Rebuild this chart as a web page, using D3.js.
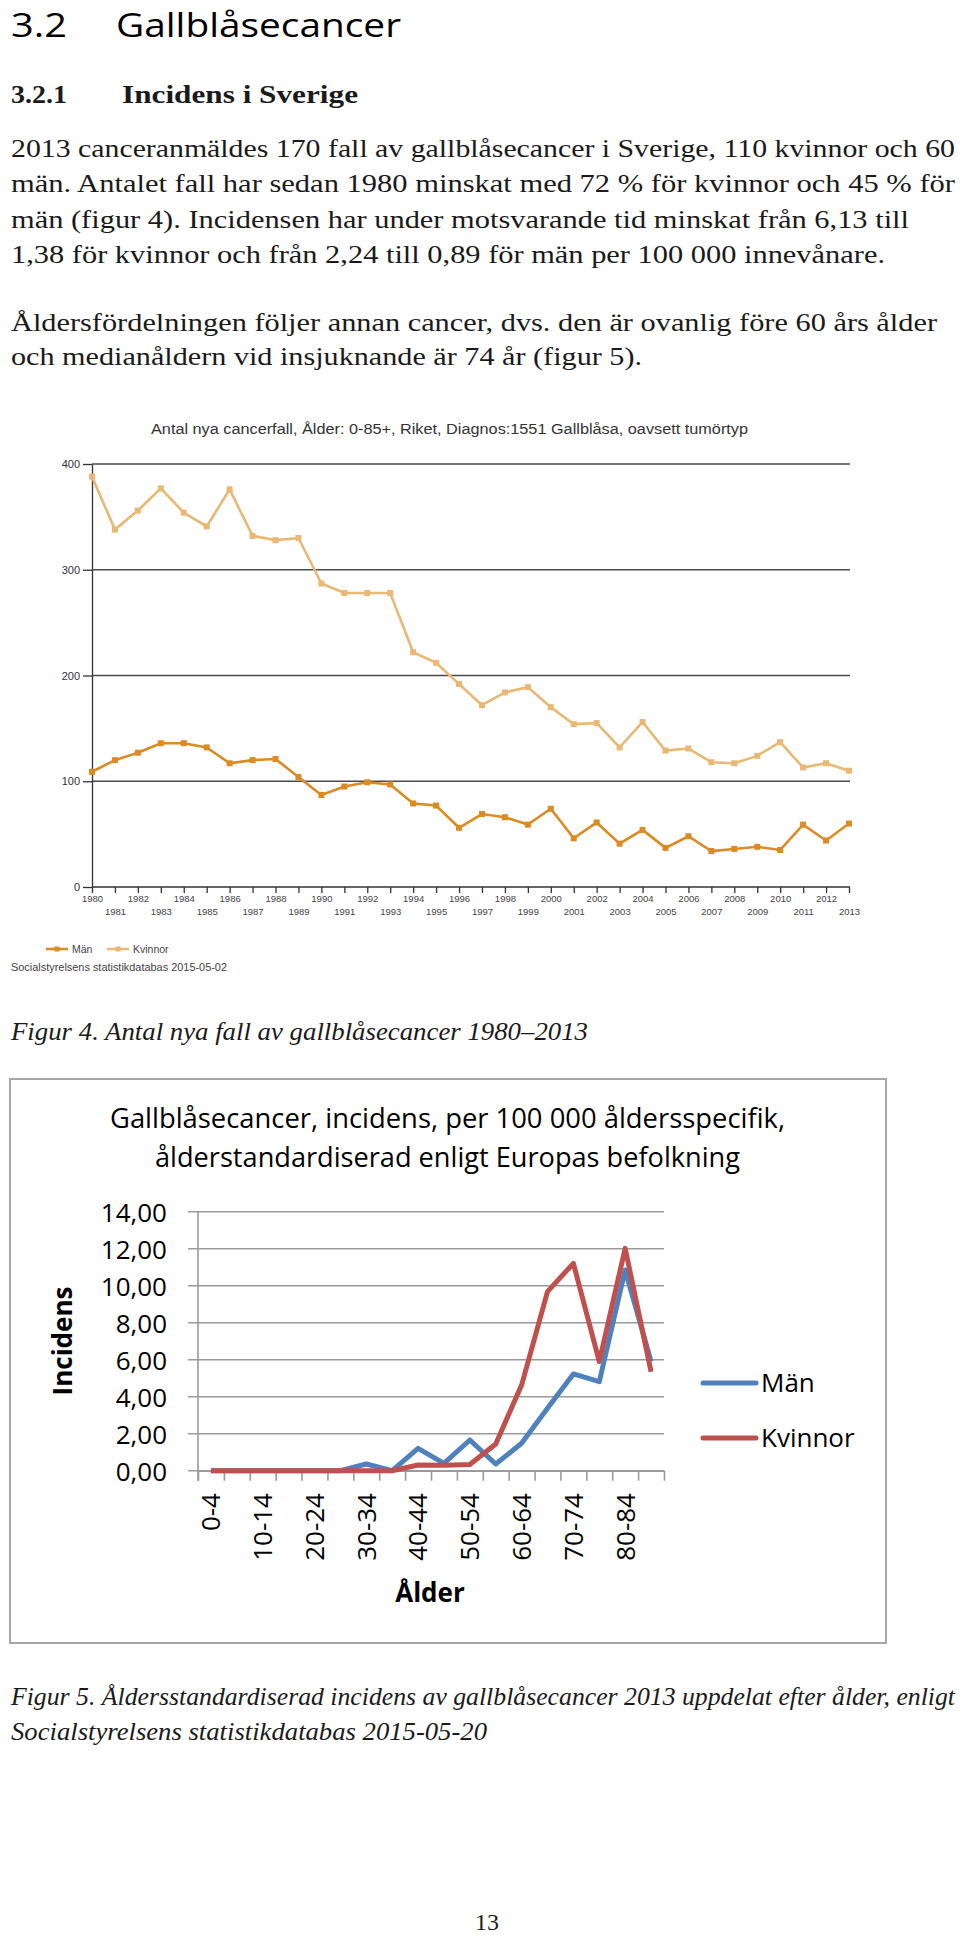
<!DOCTYPE html>
<html>
<head>
<meta charset="utf-8">
<style>
  html, body { margin: 0; padding: 0; background: #fff; }
  svg { display: block; }
  .serif { font-family: "Liberation Serif", "Times New Roman", serif; fill: #1a1a1a; }
  .arial { font-family: "Liberation Sans", Arial, sans-serif; fill: #333; }
  .narrow { font-family: "Liberation Sans Narrow", "Arial Narrow", "Liberation Sans", sans-serif; fill: #444; }
  .calibri { font-family: "Open Sans", "Noto Sans", sans-serif; fill: #000; }
</style>
</head>
<body>
<svg id="page" width="960" height="1935"></svg>
<script src="https://cdn.jsdelivr.net/npm/d3@7"></script>
<script>
// --- text of the page ---
const bodyLines = [
  "2013 canceranmäldes 170 fall av gallblåsecancer i Sverige, 110 kvinnor och 60",
  "män. Antalet fall har sedan 1980 minskat med 72 % för kvinnor och 45 % för",
  "män (figur 4). Incidensen har under motsvarande tid minskat från 6,13 till",
  "1,38 för kvinnor och från 2,24 till 0,89 för män per 100 000 innevånare.",
  "Åldersfördelningen följer annan cancer, dvs. den är ovanlig före 60 års ålder",
  "och medianåldern vid insjuknande är 74 år (figur 5)."
];
const caption4 = "Figur 4. Antal nya fall av gallblåsecancer 1980–2013";
const caption5 = [
  "Figur 5. Åldersstandardiserad incidens av gallblåsecancer 2013 uppdelat efter ålder, enligt",
  "Socialstyrelsens statistikdatabas 2015-05-20"
];

// --- figur 4: antal nya fall per år ---
const years = d3.range(1980, 2014);
const kvinnorAntal = [388, 338, 356, 377, 354, 341, 376, 332, 328, 330, 287, 278, 278, 278, 222, 212, 192,
  172, 184, 189, 170, 154, 155, 132, 156, 129, 131, 118, 117, 124, 137, 113, 117, 110];
const manAntal = [109, 120, 127, 136, 136, 132, 117, 120, 121, 104, 87, 95, 99, 97, 79, 77, 56,
  69, 66, 59, 74, 46, 61, 41, 54, 37, 48, 34, 36, 38, 35, 59, 44, 60];
const antalTicks = [0, 100, 200, 300, 400];

// --- figur 5: incidens per åldersgrupp ---
const ages = ["0-4", "5-9", "10-14", "15-19", "20-24", "25-29", "30-34", "35-39", "40-44",
  "45-49", "50-54", "55-59", "60-64", "65-69", "70-74", "75-79", "80-84", "85+"];
const manInc = [0, 0, 0, 0, 0, 0, 0.36, 0, 1.21, 0.4, 1.66, 0.36, 1.48, 3.37, 5.23, 4.81, 10.85, 5.9];
const kvinnorInc = [0, 0, 0, 0, 0, 0, 0, 0, 0.31, 0.3, 0.34, 1.44, 4.63, 9.68, 11.21, 5.9, 12.02, 5.35];
const incTicks = [0, 2, 4, 6, 8, 10, 12, 14];

const svg = d3.select("#page");
svg.append("rect").attr("width", 960).attr("height", 1935).attr("fill", "#fff");

function fitText(g, cls, x, y, txt, len, size, extra) {
  const t = g.append("text").attr("class", cls).attr("x", x).attr("y", y)
    .attr("font-size", size).attr("textLength", len).attr("lengthAdjust", "spacingAndGlyphs")
    .text(txt);
  if (extra) extra(t);
  return t;
}

// headings and body
fitText(svg, "calibri", 11, 37, "3.2", 56, 33, t => t.attr("fill", "#111"));
fitText(svg, "calibri", 116, 37, "Gallblåsecancer", 285, 33, t => t.attr("fill", "#111"));
fitText(svg, "serif", 11, 103, "3.2.1", 56, 26, t => t.attr("font-weight", "bold"));
fitText(svg, "serif", 122, 103, "Incidens i Sverige", 236, 26, t => t.attr("font-weight", "bold"));

const bodyY = [157, 192, 228, 263, 331, 365];
const bodyW = [944, 944, 898, 874, 926, 631];
bodyLines.forEach((l, i) => fitText(svg, "serif", 11, bodyY[i], l, bodyW[i], 25));

// ---------- Figur 4 ----------
const g1 = svg.append("g");
const x1 = d3.scaleLinear().domain([1980, 2013]).range([92, 849]);
const y1 = d3.scaleLinear().domain([0, 400]).range([887, 464]);

fitText(g1, "arial", 151, 434, "Antal nya cancerfall, Ålder: 0-85+, Riket, Diagnos:1551 Gallblåsa, oavsett tumörtyp", 597, 14);

g1.selectAll("line.grid").data(antalTicks.filter(d => d > 0)).join("line")
  .attr("class", "grid")
  .attr("x1", 92).attr("x2", 850)
  .attr("y1", d => y1(d)).attr("y2", d => y1(d))
  .attr("stroke", "#4a4a4a").attr("stroke-width", 1.3);

const yAx1 = g1.append("g").attr("transform", "translate(92,0)")
  .call(d3.axisLeft(y1).tickValues(antalTicks).tickSize(9).tickPadding(3).tickSizeOuter(0));
yAx1.selectAll("text").attr("class", "arial").attr("font-size", 11).attr("fill", "#333");
yAx1.selectAll("line,path").attr("stroke", "#333").attr("stroke-width", 1.3);

const xAx1 = g1.append("g").attr("transform", "translate(0,887)")
  .call(d3.axisBottom(x1).tickValues(years).tickFormat(d3.format("d")).tickSize(6).tickPadding(2).tickSizeOuter(0));
xAx1.select("path").attr("d", "M92,0H850");
xAx1.selectAll("line,path").attr("stroke", "#333").attr("stroke-width", 1.3);
xAx1.selectAll("text").attr("class", "narrow").attr("font-size", 9.5).attr("fill", "#444")
  .attr("dy", d => (d % 2 === 0 ? "0.71em" : "2.1em"));

const series1 = [
  { name: "Kvinnor", values: kvinnorAntal, color: "#E8B874" },
  { name: "Män", values: manAntal, color: "#DC8A22" }
];
const line1 = d3.line().x((d, i) => x1(years[i])).y(d => y1(d));
series1.forEach(s => {
  g1.append("path").attr("d", line1(s.values)).attr("fill", "none")
    .attr("stroke", s.color).attr("stroke-width", 2.6);
  g1.selectAll(null).data(s.values).join("rect")
    .attr("x", (d, i) => x1(years[i]) - 3).attr("y", d => y1(d) - 3)
    .attr("width", 6).attr("height", 6).attr("fill", s.color);
});

// legend figur 4
const leg1 = [
  { name: "Män", color: "#DC8A22", x: 46 },
  { name: "Kvinnor", color: "#E8B874", x: 107 }
];
leg1.forEach(l => {
  g1.append("line").attr("x1", l.x).attr("x2", l.x + 22).attr("y1", 949).attr("y2", 949)
    .attr("stroke", l.color).attr("stroke-width", 2.5);
  g1.append("rect").attr("x", l.x + 8.5).attr("y", 946.5).attr("width", 5).attr("height", 5).attr("fill", l.color);
  g1.append("text").attr("class", "narrow").attr("x", l.x + 26).attr("y", 953)
    .attr("font-size", 10.5).attr("fill", "#555").text(l.name);
});
fitText(g1, "narrow", 11, 971, "Socialstyrelsens statistikdatabas 2015-05-02", 216, 10.5, t => t.attr("fill", "#333"));

fitText(svg, "serif", 11, 1040, caption4, 577, 25, t => t.attr("font-style", "italic"));

// ---------- Figur 5 ----------
const g2 = svg.append("g");
g2.append("rect").attr("x", 10).attr("y", 1079).attr("width", 876).attr("height", 564)
  .attr("fill", "#fff").attr("stroke", "#a6a6a6").attr("stroke-width", 2);

fitText(g2, "calibri", 110, 1128, "Gallblåsecancer, incidens, per 100 000 åldersspecifik,", 675, 27);
fitText(g2, "calibri", 155, 1167, "ålderstandardiserad enligt Europas befolkning", 585, 27);

const x2 = d3.scaleBand().domain(ages).range([198, 664]);
const xEdges = d3.scaleLinear().domain([0, ages.length]).range([198, 664]);
const y2 = d3.scaleLinear().domain([0, 14]).range([1470.7, 1211.7]);

g2.selectAll("line.grid").data(incTicks).join("line")
  .attr("class", "grid")
  .attr("x1", 188).attr("x2", 664)
  .attr("y1", d => y2(d)).attr("y2", d => y2(d))
  .attr("stroke", "#9a9a9a").attr("stroke-width", 1.6);

const yAx2 = g2.append("g").attr("transform", "translate(198,0)")
  .call(d3.axisLeft(y2).tickValues(incTicks).tickSize(10).tickPadding(21).tickSizeOuter(0)
    .tickFormat(d => d3.format(".2f")(d).replace(".", ",")));
yAx2.selectAll("line").remove();
yAx2.select("path").attr("d", "M0,1211.7V1481").attr("stroke", "#9a9a9a").attr("stroke-width", 1.6);
yAx2.selectAll("text").attr("class", "calibri").attr("font-size", 26).attr("fill", "#000").attr("dy", "0.36em");

const xAx2 = g2.append("g").attr("transform", "translate(0,1470.7)")
  .call(d3.axisBottom(xEdges).tickValues(d3.range(ages.length + 1)).tickFormat("").tickSize(10).tickSizeOuter(0));
xAx2.selectAll("line,path").attr("stroke", "#9a9a9a").attr("stroke-width", 1.6);

g2.selectAll("text.age").data(ages.filter((d, i) => i % 2 === 0)).join("text")
  .attr("class", "calibri age")
  .attr("font-size", 26)
  .attr("text-anchor", "end")
  .attr("transform", d => `translate(${x2(d) + x2.bandwidth() / 2},1493) rotate(-90)`)
  .attr("dy", "0.36em")
  .text(d => d);

const line2 = d3.line().x((d, i) => x2(ages[i]) + x2.bandwidth() / 2).y(d => y2(d));
const series2 = [
  { name: "Män", values: manInc, color: "#4F81BD", ly: 1383 },
  { name: "Kvinnor", values: kvinnorInc, color: "#C0504D", ly: 1438 }
];
series2.forEach(s => {
  g2.append("path").attr("d", line2(s.values)).attr("fill", "none")
    .attr("stroke", s.color).attr("stroke-width", 5).attr("stroke-linejoin", "round");
});
series2.forEach(s => {
  g2.append("line").attr("x1", 703).attr("x2", 756).attr("y1", s.ly).attr("y2", s.ly)
    .attr("stroke", s.color).attr("stroke-width", 5).attr("stroke-linecap", "round");
  g2.append("text").attr("class", "calibri").attr("x", 761).attr("y", s.ly).attr("dy", "0.36em")
    .attr("font-size", 26).text(s.name);
});

g2.append("text").attr("class", "calibri").attr("font-size", 26).attr("font-weight", "bold")
  .attr("text-anchor", "middle").attr("transform", "translate(72,1341) rotate(-90)")
  .text("Incidens");
g2.append("text").attr("class", "calibri").attr("font-size", 26).attr("font-weight", "bold")
  .attr("text-anchor", "middle").attr("x", 430).attr("y", 1602).text("Ålder");

fitText(svg, "serif", 11, 1705, caption5[0], 944, 25, t => t.attr("font-style", "italic"));
fitText(svg, "serif", 11, 1740, caption5[1], 476, 25, t => t.attr("font-style", "italic"));
fitText(svg, "serif", 475, 1930, "13", 24, 24);
</script>
</body>
</html>
